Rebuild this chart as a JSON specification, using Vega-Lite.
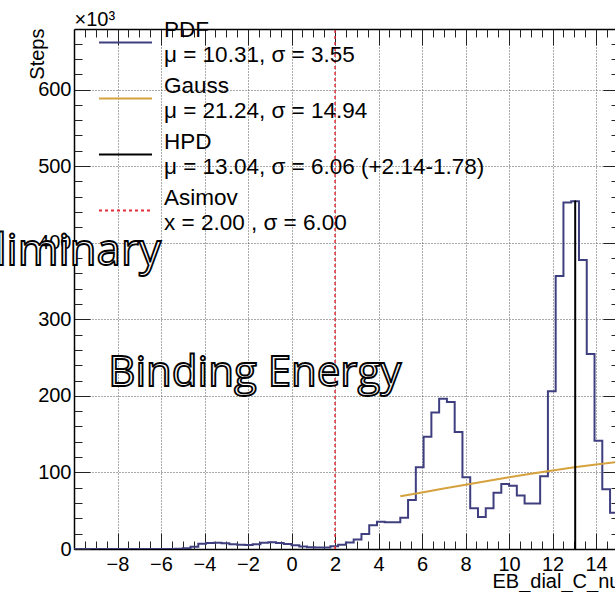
{
  "$schema": "https://vega.github.io/schema/vega-lite/v6.json",
  "width": 541,
  "height": 520,
  "autosize": {"type": "none"},
  "padding": {"left": 74, "top": 29, "right": 0, "bottom": 43},
  "background": "white",
  "config": {
    "view": {"stroke": null},
    "font": "Liberation Sans",
    "axis": {
      "labelFont": "Liberation Sans",
      "labelFontSize": 20,
      "labelColor": "black",
      "titleFont": "Liberation Sans",
      "titleFontSize": 20,
      "titleFontWeight": "normal",
      "titleColor": "black",
      "domainColor": "black",
      "domainWidth": 1.5,
      "tickColor": "#222222",
      "tickWidth": 1,
      "gridColor": "#555555",
      "gridDash": [1, 2],
      "gridWidth": 1,
      "gridOpacity": 1,
      "labelFlush": false,
      "labelOverlap": false
    }
  },
  "datasets": {
    "pdf": [
      {"lo": -10.0, "steps": 0}, {"lo": -9.6429, "steps": 0}, {"lo": -9.2857, "steps": 0},
      {"lo": -8.9286, "steps": 0}, {"lo": -8.5714, "steps": 0}, {"lo": -8.2143, "steps": 0},
      {"lo": -7.8571, "steps": 0}, {"lo": -7.5, "steps": 0}, {"lo": -7.1429, "steps": 0},
      {"lo": -6.7857, "steps": 0}, {"lo": -6.4286, "steps": 0}, {"lo": -6.0714, "steps": 0},
      {"lo": -5.7143, "steps": 0}, {"lo": -5.3571, "steps": 0.3}, {"lo": -5.0, "steps": 1.0},
      {"lo": -4.6429, "steps": 3.0}, {"lo": -4.2857, "steps": 7.0}, {"lo": -3.9286, "steps": 7.8},
      {"lo": -3.5714, "steps": 8.3}, {"lo": -3.2143, "steps": 7.5}, {"lo": -2.8571, "steps": 6.1},
      {"lo": -2.5, "steps": 5.5}, {"lo": -2.1429, "steps": 5.3}, {"lo": -1.7857, "steps": 6.3},
      {"lo": -1.4286, "steps": 8.3}, {"lo": -1.0714, "steps": 8.7}, {"lo": -0.7143, "steps": 7.8},
      {"lo": -0.3571, "steps": 6.5}, {"lo": 0.0, "steps": 4.8}, {"lo": 0.3571, "steps": 3.3},
      {"lo": 0.7143, "steps": 2.2}, {"lo": 1.0714, "steps": 1.8}, {"lo": 1.4286, "steps": 2.0},
      {"lo": 1.7857, "steps": 3.5}, {"lo": 2.1429, "steps": 5.5}, {"lo": 2.5, "steps": 8.5},
      {"lo": 2.8571, "steps": 12.5}, {"lo": 3.2143, "steps": 19.6}, {"lo": 3.5714, "steps": 31.0},
      {"lo": 3.9286, "steps": 35.5}, {"lo": 4.2857, "steps": 34.8}, {"lo": 4.6429, "steps": 34.8},
      {"lo": 5.0, "steps": 40.9}, {"lo": 5.3571, "steps": 64.0}, {"lo": 5.7143, "steps": 106.6},
      {"lo": 6.0714, "steps": 146.6}, {"lo": 6.4286, "steps": 178.4}, {"lo": 6.7857, "steps": 196.2},
      {"lo": 7.1429, "steps": 191.9}, {"lo": 7.5, "steps": 152.7}, {"lo": 7.8571, "steps": 93.6},
      {"lo": 8.2143, "steps": 53.1}, {"lo": 8.5714, "steps": 41.8}, {"lo": 8.9286, "steps": 53.1},
      {"lo": 9.2857, "steps": 73.5}, {"lo": 9.6429, "steps": 84.9}, {"lo": 10.0, "steps": 82.5},
      {"lo": 10.3571, "steps": 70.0}, {"lo": 10.7143, "steps": 59.3}, {"lo": 11.0714, "steps": 59.3},
      {"lo": 11.4286, "steps": 95.0}, {"lo": 11.7857, "steps": 206.0}, {"lo": 12.1429, "steps": 356.4},
      {"lo": 12.5, "steps": 452.6}, {"lo": 12.8571, "steps": 454.0}, {"lo": 13.2143, "steps": 377.3},
      {"lo": 13.5714, "steps": 254.6}, {"lo": 13.9286, "steps": 141.4}, {"lo": 14.2857, "steps": 77.9},
      {"lo": 14.6429, "steps": 47.4}, {"lo": 15.0, "steps": 47.4}
    ],
    "gauss": [
      {"x": 5, "steps": 68.8}, {"x": 6, "steps": 73.8}, {"x": 7, "steps": 78.9},
      {"x": 8, "steps": 83.9}, {"x": 9, "steps": 88.8}, {"x": 10, "steps": 93.6},
      {"x": 11, "steps": 98.2}, {"x": 12, "steps": 102.6}, {"x": 13, "steps": 106.7},
      {"x": 14, "steps": 110.4}, {"x": 15, "steps": 113.8}
    ],
    "hpd": [{"mu": 13.04, "low": 0, "high": 455}],
    "asimov": [{"x": 2.0, "low": 0, "high": 679}],
    "notes": [{"note": "Binding Energy"}],
    "stamp": [{"note": "Preliminary"}]
  },
  "layer": [
    {
      "data": {"name": "pdf"},
      "mark": {"type": "line", "interpolate": "step-after", "strokeWidth": 2, "clip": true},
      "encoding": {
        "x": {
          "field": "lo", "type": "quantitative",
          "scale": {"domain": [-10, 14.87], "nice": false, "zero": false},
          "axis": {
            "orient": "bottom",
            "values": [-8, -6, -4, -2, 0, 2, 4, 6, 8, 10, 12, 14],
            "tickSize": -16, "grid": true, "labelPadding": 21, "labelFontSize": 20,
            "title": "EB_dial_C_nu", "titleFontSize": 20, "titleX": 418, "titleY": 38,
            "titleAlign": "left", "titleAnchor": "start", "titleBaseline": "alphabetic"
          }
        },
        "y": {
          "field": "steps", "type": "quantitative",
          "scale": {"domain": [0, 679], "nice": false, "zero": true},
          "axis": {
            "orient": "left",
            "values": [0, 100, 200, 300, 400, 500, 600],
            "tickSize": -16, "grid": true, "labelPadding": 19, "labelFontSize": 20,
            "title": "Steps", "titleFontSize": 20, "titleAngle": 270, "titleX": -31, "titleY": -1,
            "titleAlign": "right", "titleBaseline": "alphabetic"
          }
        },
        "color": {
          "datum": "PDF", "type": "nominal",
          "scale": {"domain": ["PDF", "Gauss", "HPD", "Asimov"], "range": ["#3f3f80", "#d6a23e", "#000000", "#e0303c"]},
          "legend": {
            "orient": "none", "legendX": 24, "legendY": -14,
            "title": null, "padding": 0,
            "symbolType": "stroke", "symbolSize": 2809, "symbolStrokeWidth": 2,
            "labelFont": "Liberation Sans", "labelFontSize": 22.5, "labelColor": "black",
            "labelLimit": 600, "labelOffset": 11, "rowPadding": 4, "labelBaseline": "middle",
            "labelExpr": "datum.label === 'PDF' ? ['PDF', 'μ = 10.31, σ = 3.55'] : datum.label === 'Gauss' ? ['Gauss', 'μ = 21.24, σ = 14.94'] : datum.label === 'HPD' ? ['HPD', 'μ = 13.04, σ = 6.06 (+2.14-1.78)'] : ['Asimov', 'x = 2.00 , σ = 6.00']",
            "encode": {
              "labels": {"update": {"lineHeight": {"value": 24.5}, "dy": {"value": -12.25}}},
              "symbols": {"update": {"strokeDash": {"signal": "datum.value === 'Asimov' ? [3, 3] : [1, 0]"}}}
            }
          }
        }
      }
    },
    {
      "data": {"name": "gauss"},
      "mark": {"type": "line", "strokeWidth": 2, "clip": true},
      "encoding": {
        "x": {
          "field": "x", "type": "quantitative",
          "scale": {"domain": [-10, 14.87], "nice": false, "zero": false},
          "axis": {
            "orient": "bottom",
            "values": [-9.5, -9, -8.5, -7.5, -7, -6.5, -5.5, -5, -4.5, -3.5, -3, -2.5, -1.5, -1, -0.5, 0.5, 1, 1.5, 2.5, 3, 3.5, 4.5, 5, 5.5, 6.5, 7, 7.5, 8.5, 9, 9.5, 10.5, 11, 11.5, 12.5, 13, 13.5, 14.5],
            "tickSize": -8, "labels": false, "domain": false, "grid": false, "title": null
          }
        },
        "y": {
          "field": "steps", "type": "quantitative",
          "scale": {"domain": [0, 679], "nice": false},
          "axis": {
            "orient": "left",
            "values": [20, 40, 60, 80, 120, 140, 160, 180, 220, 240, 260, 280, 320, 340, 360, 380, 420, 440, 460, 480, 520, 540, 560, 580, 620, 640, 660],
            "tickSize": -8, "labels": false, "domain": false, "grid": false, "title": null
          }
        },
        "color": {"datum": "Gauss", "type": "nominal"}
      }
    },
    {
      "data": {"name": "hpd"},
      "mark": {"type": "rule", "strokeWidth": 2},
      "encoding": {
        "x": {
          "field": "mu", "type": "quantitative",
          "scale": {"domain": [-10, 14.87], "nice": false, "zero": false},
          "axis": {
            "orient": "top",
            "values": [-8, -6, -4, -2, 0, 2, 4, 6, 8, 10, 12, 14],
            "tickSize": -16, "labels": false, "domain": true, "grid": false,
            "title": "×10³", "titleFontSize": 20, "titleX": 0, "titleY": -4, "titleAngle": 0,
            "titleAlign": "left", "titleAnchor": "start", "titleBaseline": "alphabetic"
          }
        },
        "y": {
          "field": "low", "type": "quantitative",
          "scale": {"domain": [0, 679], "nice": false},
          "axis": {
            "orient": "right", "offset": 4,
            "values": [100, 200, 300, 400, 500, 600],
            "tickSize": -16, "labels": false, "domain": true, "grid": false, "title": null
          }
        },
        "y2": {"field": "high"},
        "color": {"datum": "HPD", "type": "nominal"}
      }
    },
    {
      "data": {"name": "asimov"},
      "mark": {"type": "rule", "strokeWidth": 1.5, "strokeDash": [3, 3]},
      "encoding": {
        "x": {
          "field": "x", "type": "quantitative",
          "scale": {"domain": [-10, 14.87], "nice": false, "zero": false},
          "axis": {
            "orient": "top",
            "values": [-9.5, -9, -8.5, -7.5, -7, -6.5, -5.5, -5, -4.5, -3.5, -3, -2.5, -1.5, -1, -0.5, 0.5, 1, 1.5, 2.5, 3, 3.5, 4.5, 5, 5.5, 6.5, 7, 7.5, 8.5, 9, 9.5, 10.5, 11, 11.5, 12.5, 13, 13.5, 14.5],
            "tickSize": -8, "labels": false, "domain": false, "grid": false, "title": null
          }
        },
        "y": {
          "field": "low", "type": "quantitative",
          "scale": {"domain": [0, 679], "nice": false},
          "axis": {
            "orient": "right", "offset": 4,
            "values": [20, 40, 60, 80, 120, 140, 160, 180, 220, 240, 260, 280, 320, 340, 360, 380, 420, 440, 460, 480, 520, 540, 560, 580, 620, 640, 660],
            "tickSize": -8, "labels": false, "domain": false, "grid": false, "title": null
          }
        },
        "y2": {"field": "high"},
        "color": {"datum": "Asimov", "type": "nominal"}
      }
    },
    {
      "data": {"name": "notes"},
      "mark": {"type": "text", "font": "Open Sans", "fontSize": 42, "fill": "white", "stroke": "black", "strokeWidth": 1.8, "align": "left", "baseline": "alphabetic"},
      "encoding": {
        "x": {"datum": -8.42, "type": "quantitative", "axis": null},
        "y": {"datum": 212.5, "type": "quantitative", "axis": null},
        "text": {"field": "note"}
      }
    },
    {
      "data": {"name": "stamp"},
      "mark": {"type": "text", "font": "Open Sans", "fontSize": 44, "fill": "white", "stroke": "black", "strokeWidth": 1.8, "align": "right", "baseline": "alphabetic"},
      "encoding": {
        "x": {"datum": -6.0, "type": "quantitative", "axis": null},
        "y": {"datum": 371, "type": "quantitative", "axis": null},
        "text": {"field": "note"}
      }
    }
  ],
  "resolve": {"axis": {"x": "independent", "y": "independent"}}
}
